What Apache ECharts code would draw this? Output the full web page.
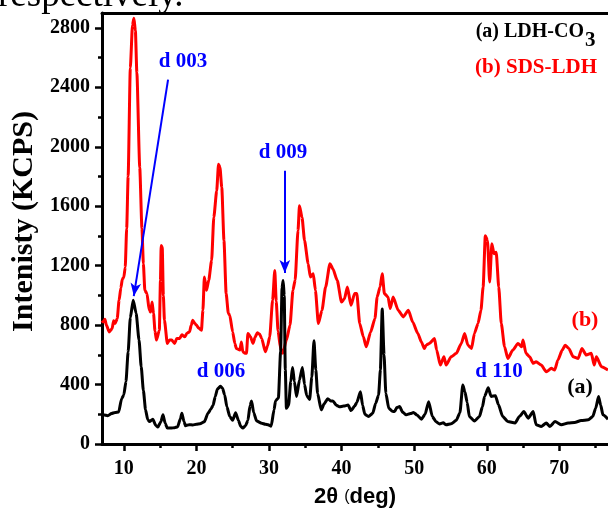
<!DOCTYPE html>
<html><head><meta charset="utf-8">
<script src="https://cdn.jsdelivr.net/npm/echarts@6/dist/echarts.min.js"></script>
<style>html,body{margin:0;padding:0;background:#fff}#c{width:608px;height:510px}</style>
</head><body><div id="c"></div>
<script>
// (a) LDH-CO3 — black trace
const aX = [7.0,7.2,7.8,8.3,8.8,9.3,9.7,10.0,10.3,10.6,10.9,11.3,11.7,12.1,12.4,12.7,13.0,13.3,13.55,14.0,14.4,14.7,15.1,15.4,15.7,16.0,16.5,17.0,17.4,17.8,18.0,18.3,18.5,19.0,19.5,20.0,20.5,21.1,21.6,22.0,22.3,22.6,22.9,23.3,23.6,23.9,24.2,24.6,25.0,25.4,25.8,26.1,26.4,26.8,27.1,27.4,27.6,27.9,28.3,29.0,29.5,29.9,30.3,30.7,30.9,31.3,31.6,31.8,31.95,32.1,32.25,32.4,32.7,33.0,33.25,33.5,33.8,34.2,34.6,34.9,35.2,35.6,35.9,36.2,36.45,36.7,37.2,37.6,38.1,38.5,38.8,39.3,39.7,40.3,40.9,41.3,41.8,42.1,42.6,42.9,43.2,43.7,44.3,44.7,45.1,45.35,45.6,45.85,46.1,46.5,47.0,47.3,47.6,48.0,48.4,48.9,49.5,49.9,50.4,51.0,51.5,52.0,52.5,53.0,53.5,54.0,54.4,55.1,55.8,56.3,56.7,57.0,57.3,57.6,58.3,59.0,59.4,59.7,60.2,60.6,61.2,61.6,62.2,62.9,63.9,64.5,65.1,65.7,66.4,66.8,67.5,68.2,68.7,69.4,70.3,71.2,72.1,73.0,74.0,74.6,75.0,75.4,75.7,76.0,76.7];
const aY = [205,196,190,205,212,215,305,330,420,620,850,967,880,700,520,360,230,165,151,167,125,114,150,196,140,107,107,110,115,170,207,150,123,130,128,133,136,150,207,235,260,320,370,388,375,330,250,185,160,210,158,120,107,125,160,260,290,210,155,140,133,129,120,230,290,310,620,1050,1100,1000,500,240,260,420,515,420,320,430,515,400,325,300,450,695,500,340,230,270,305,290,290,260,250,255,262,225,255,280,352,260,200,185,207,275,330,500,908,600,342,241,220,218,245,252,215,196,205,212,195,167,200,285,185,150,135,143,129,136,160,210,397,350,280,185,155,185,250,320,378,320,325,265,185,151,141,185,218,174,218,129,118,141,118,151,129,141,145,158,163,185,240,319,260,196,167];
// (b) SDS-LDH — red trace
const bX = [7.0,7.15,7.4,7.6,8.0,8.4,8.6,8.8,9.1,9.35,9.6,9.8,10.0,10.2,10.4,10.6,10.9,11.2,11.4,11.6,11.8,12.2,12.5,12.7,12.9,13.2,13.5,13.7,13.9,14.1,14.3,14.5,14.9,15.05,15.15,15.3,15.45,15.6,16.0,16.3,16.6,17.0,17.3,17.7,18.0,18.4,18.7,19.05,19.3,19.5,19.8,20.0,20.3,20.7,20.9,21.1,21.4,21.7,22.1,22.4,22.8,23.05,23.25,23.5,23.8,24.1,24.4,24.6,25.0,25.3,25.5,26.0,26.2,26.4,26.7,26.9,27.1,27.45,27.8,28.1,28.4,28.7,29.0,29.5,29.8,30.1,30.5,30.8,31.0,31.25,31.6,31.9,32.4,32.9,33.3,33.6,34.0,34.2,34.55,34.9,35.4,35.7,36.1,36.4,36.8,37.3,37.8,38.4,38.8,39.4,40.0,40.4,40.8,41.3,41.8,42.1,42.5,43.0,43.4,44.0,44.6,44.9,45.3,45.6,45.9,46.4,46.7,47.1,47.8,48.5,49.2,49.8,50.5,51.0,51.4,51.65,52.1,52.8,53.1,53.6,54.1,54.4,55.1,55.8,56.5,56.95,57.4,57.9,58.3,58.8,59.2,59.5,59.8,60.1,60.4,60.7,61.0,61.3,61.65,62.0,62.45,62.9,63.6,64.3,64.8,65.0,65.4,65.9,66.4,66.8,67.5,68.2,68.9,69.35,69.8,70.4,70.8,71.3,71.9,72.6,73.1,73.7,74.4,74.8,75.1,75.8,76.7];
const bY = [830,821,840,800,754,777,830,810,844,967,1050,1110,1120,1190,1450,1800,2530,2820,2865,2780,2500,1860,1450,1213,1034,1012,900,888,955,878,760,699,766,1100,1335,1324,1000,833,677,700,699,677,710,710,735,721,745,754,800,833,810,800,780,766,900,1123,1034,1101,1235,1525,1704,1883,1860,1726,1369,1012,880,866,754,677,643,632,687,621,610,610,744,721,677,720,748,740,710,621,660,721,967,1168,960,760,643,610,699,800,1034,1101,1436,1603,1525,1369,1213,1123,1146,1034,811,900,1056,1213,1179,1101,955,978,1056,933,1012,1012,811,721,654,754,844,989,1056,1146,1012,989,911,989,900,855,900,821,744,687,643,665,677,710,632,531,587,531,587,610,677,744,665,643,744,811,900,1056,1402,1369,1090,1347,1280,1291,1056,811,654,576,632,677,654,699,610,587,543,554,531,486,509,498,565,632,665,643,587,576,643,598,610,531,587,520,498];

const xTicks = [10,20,30,40,50,60,70];
const xMinorTicks = [15,25,35,45,55,65,75];
const yTicks = [0,400,800,1200,1600,2000,2400,2800];
const yMinorTicks = [200,600,1000,1400,1800,2200,2600];
const xRange = [7, 76.7];
const yRange = [0, 2900];
// peak annotation arrows: [label, start point, tip point] in data units
const arrows = [
  ['d 003', [16.1, 2452], [11.38, 995]],
  ['d 009', [32.18, 1838], [32.18, 1150]]
];

const serif = "'Liberation Serif','Times New Roman',serif";
const sans = "'Liberation Sans',Arial,sans-serif";
const chart = echarts.init(document.getElementById('c'), null, {renderer:'canvas'});

function pairs(xs, ys){ return xs.map((x,i)=>[x, ys[i]]); }
const plain = v => String(v);
const baseX = {type:'value', min:xRange[0], max:xRange[1], splitLine:{show:false}};
const baseY = {type:'value', min:yRange[0], max:yRange[1], splitLine:{show:false}};

function txt(text, x, y, color, size, align){
  return {type:'text', x:x, y:y, silent:true, z:100,
    style:{text:text, fill:color, font:'bold '+size+'px '+serif, align:align||'center', verticalAlign:'middle'}};
}

const option = {
  animation:false,
  backgroundColor:'#fff',
  grid:{left:102, top:13, right:0, bottom:66, containLabel:false, outerBoundsMode:'none'},
  xAxis:[
    Object.assign({}, baseX, {position:'bottom',
      axisLine:{show:true, onZero:false, lineStyle:{color:'#000', width:3}},
      axisTick:{show:true, customValues:xTicks, length:7, lineStyle:{color:'#000', width:2.5}},
      axisLabel:{show:true, customValues:xTicks, formatter:plain, color:'#000', fontFamily:serif, fontWeight:'bold', fontSize:20, margin:15},
      name:'{n|2θ }{p|(}{n|deg)}', nameLocation:'middle', nameGap:42,
      nameTextStyle:{rich:{n:{fontFamily:sans, fontWeight:'bold', fontSize:22, color:'#000'},
                           p:{fontFamily:sans, fontWeight:'normal', fontSize:16, color:'#000'}}}}),
    Object.assign({}, baseX, {position:'bottom',
      axisLine:{show:false}, axisLabel:{show:false},
      axisTick:{show:true, customValues:xMinorTicks, length:4, lineStyle:{color:'#000', width:2.5}}}),
    Object.assign({}, baseX, {position:'top',
      axisLine:{show:true, onZero:false, lineStyle:{color:'#000', width:3}},
      axisTick:{show:false}, axisLabel:{show:false}})
  ],
  yAxis:[
    Object.assign({}, baseY, {position:'left',
      axisLine:{show:true, onZero:false, lineStyle:{color:'#000', width:3}},
      axisTick:{show:true, customValues:yTicks, length:7, lineStyle:{color:'#000', width:2.5}},
      axisLabel:{show:true, customValues:yTicks, formatter:plain, color:'#000', fontFamily:serif, fontWeight:'bold', fontSize:20, margin:12},
      name:'Intenisty (KCPS)', nameLocation:'middle', nameGap:57,
      nameTextStyle:{fontFamily:serif, fontWeight:'bold', fontSize:30, color:'#000', padding:[0,0,0,14]}}),
    Object.assign({}, baseY, {position:'left',
      axisLine:{show:false}, axisLabel:{show:false},
      axisTick:{show:true, customValues:yMinorTicks, length:4, lineStyle:{color:'#000', width:2.5}}})
  ],
  series:[
    {name:'(b) SDS-LDH', type:'line', xAxisIndex:0, yAxisIndex:0, data:pairs(bX,bY),
     showSymbol:false, symbol:'none', smooth:0.2, smoothMonotone:'x',
     lineStyle:{color:'#ff0000', width:3}, z:2,
     markLine:{silent:true, symbol:['none','arrow'], symbolSize:[8,13], label:{show:false},
       lineStyle:{color:'#0000ff', width:2, type:'solid'}, itemStyle:{color:'#0000ff'},
       emphasis:{disabled:true}, animation:false,
       data: arrows.map(a=>[{coord:a[1]},{coord:a[2]}])}},
    {name:'(a) LDH-CO3', type:'line', xAxisIndex:0, yAxisIndex:0, data:pairs(aX,aY),
     showSymbol:false, symbol:'none', smooth:0.2, smoothMonotone:'x',
     lineStyle:{color:'#000000', width:3}, z:3}
  ],
  graphic:[
    {type:'text', x:-2, y:15, silent:true, style:{text:'respectively.', fill:'#000', font:'37px '+serif, align:'left', verticalAlign:'bottom'}},
    txt('(a) LDH-CO', 584, 32, '#000', 20, 'right'),
    txt('3', 585, 41, '#000', 21, 'left'),
    txt('(b) SDS-LDH', 597, 68, '#ff0000', 21, 'right'),
    txt('d 003', 183, 62, '#0000ff', 21),
    txt('d 009', 283, 153, '#0000ff', 21),
    txt('d 006', 221, 372, '#0000ff', 21),
    txt('d 110', 499, 372, '#0000ff', 21),
    txt('(b)', 585, 320, '#ff0000', 22),
    txt('(a)', 580, 387, '#000', 22)
  ]
};
chart.setOption(option);
</script>
</body></html>
